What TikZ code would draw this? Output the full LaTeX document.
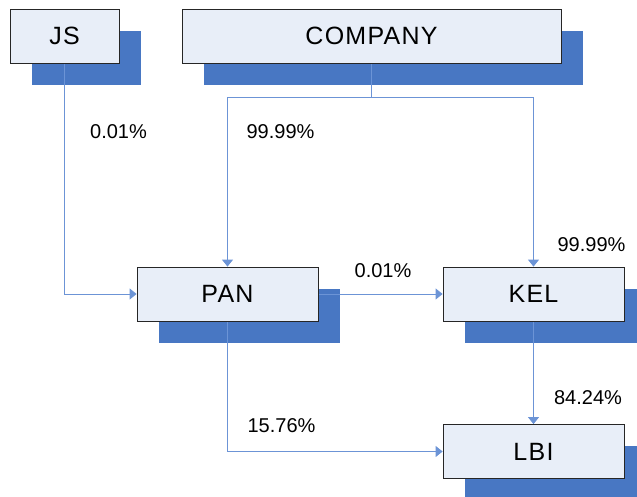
\documentclass[tikz,border=0pt]{standalone}
\usepackage{fontspec}
\setmainfont{Liberation Sans}
\newfontfamily\boxfont[LetterSpace=5]{Liberation Sans}
\usetikzlibrary{arrows.meta,backgrounds}
\definecolor{boxfill}{HTML}{E8EEF8}
\definecolor{boxshade}{HTML}{4877C3}
\definecolor{linkline}{HTML}{6C94D6}

\begin{document}
\begin{tikzpicture}[x=1pt,y=-1pt,
    entity/.style={draw=black!85, fill=boxfill, line width=0.8pt, minimum width=181pt, minimum height=54pt, inner sep=0pt, font=\boxfont\fontsize{25}{30}\selectfont},
    share/.style={inner sep=0pt, font=\fontsize{20}{24}\selectfont},
    link/.style={-{Triangle[length=7pt,width=11pt]}, line width=0.9pt, color=linkline}
  ]
  \useasboundingbox (0,0) rectangle (637,497);
  \clip (0,0) rectangle (637,497);
  \node[entity, minimum width=109pt] (js) at (64.5,36) {JS};
  \node[entity, minimum width=379pt] (company) at (371.5,36) {COMPANY};
  \node[entity] (pan) at (227.5,294) {PAN};
  \node[entity] (kel) at (533.5,294) {KEL};
  \node[entity] (lbi) at (533.5,451.5) {LBI};
  \node[share] (jspan) at (118.5,132) {0.01\%};
  \node[share] (copan) at (280.5,132) {99.99\%};
  \node[share] (cokel) at (591.5,245) {99.99\%};
  \node[share] (pankel) at (383,271) {0.01\%};
  \node[share] (kellbi) at (588,398) {84.24\%};
  \node[share] (panlbi) at (281.5,426) {15.76\%};
  \begin{scope}[on background layer]
    \foreach \n in {js,company,pan,kel,lbi}
      \fill[boxshade] ([shift={(22,22)}]\n.north west) rectangle ([shift={(22,22)}]\n.south east);
    \draw[link] (js.south) |- (pan.west);
    \draw[link] (company.south) -- ++(0,34) -| (pan.north);
    \draw[link] (company.south) -- ++(0,34) -| (kel.north);
    \draw[link] (pan.east) -- (kel.west);
    \draw[link] (pan.south) |- (lbi.west);
    \draw[link] (kel.south) -- (lbi.north);
  \end{scope}
\end{tikzpicture}
\end{document}
